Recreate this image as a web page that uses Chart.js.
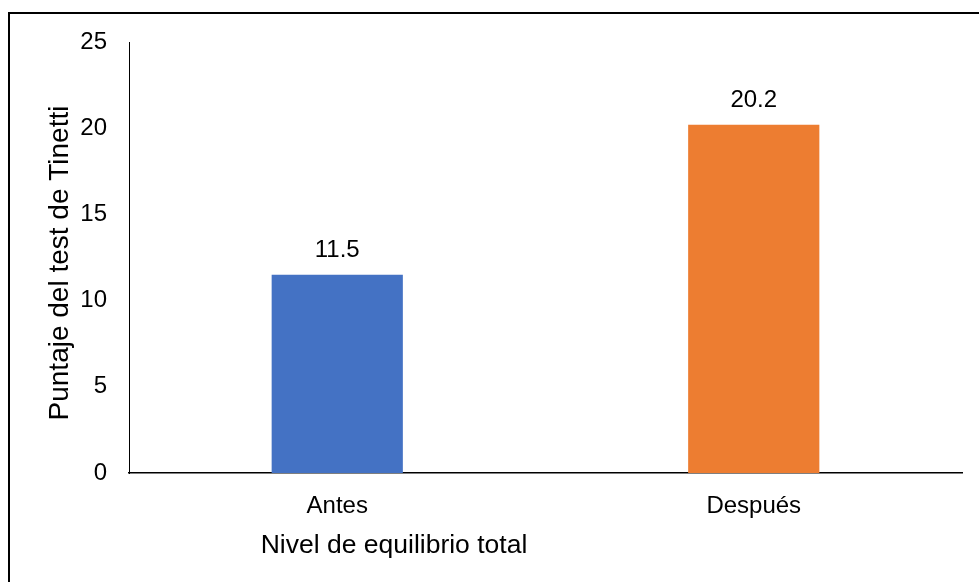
<!DOCTYPE html>
<html>
<head>
<meta charset="utf-8">
<script src="https://cdn.jsdelivr.net/npm/chart.js@4.4.1/dist/chart.umd.min.js"></script>
<style>
    html, body { margin: 0; padding: 0; background: #fff; }
    #wrap { width: 979px; height: 582px; position: relative; }
</style>
</head>
<body>
<div id="wrap"><canvas id="chart"></canvas></div>
<script>
// Tinetti scores before and after
const categories = ['Antes', 'Después'];
const scores = [11.5, 20.2];
const barColors = ['#4472C4', '#ED7D31'];
const yTicks = [0, 5, 10, 15, 20, 25];

const FONT = "'Liberation Sans', Arial, sans-serif";

// Outer frame + axis titles + value labels
const decorations = {
    id: 'decorations',
    beforeDraw(chart) {
        const ctx = chart.ctx;
        ctx.save();
        ctx.fillStyle = '#fff';
        ctx.fillRect(0, 0, chart.width, chart.height);
        ctx.strokeStyle = '#000';
        ctx.lineWidth = 2;
        ctx.beginPath();
        ctx.moveTo(9, chart.height);
        ctx.lineTo(9, 13);
        ctx.lineTo(chart.width, 13);
        ctx.stroke();
        ctx.restore();
    },
    afterDraw(chart) {
        const ctx = chart.ctx;
        ctx.save();
        ctx.fillStyle = '#000';

        // axis titles
        ctx.font = '26.5px ' + FONT;
        ctx.textAlign = 'center';
        ctx.textBaseline = 'middle';
        ctx.fillText('Nivel de equilibrio total', 394, 546);

        ctx.save();
        ctx.translate(60, 263);
        ctx.rotate(-Math.PI / 2);
        ctx.font = '28px ' + FONT;
        ctx.fillText('Puntaje del test de Tinetti', 0, 0);
        ctx.restore();

        // value labels above bars
        ctx.font = '24px ' + FONT;
        ctx.textBaseline = 'alphabetic';
        chart.getDatasetMeta(0).data.forEach((bar, i) => {
            ctx.fillText(String(scores[i]), bar.x, bar.y - 18);
        });
        ctx.restore();
    }
};

new Chart(document.getElementById('chart'), {
    type: 'bar',
    data: {
        labels: categories,
        datasets: [{
            data: scores,
            backgroundColor: barColors,
            borderWidth: 0,
            categoryPercentage: 1,
            barPercentage: 0.315
        }]
    },
    options: {
        responsive: true,
        maintainAspectRatio: false,
        animation: false,
        layout: { padding: { top: 42, right: 17, left: 0, bottom: 0 } },
        plugins: {
            legend: { display: false },
            tooltip: { enabled: false }
        },
        scales: {
            x: {
                grid: { display: false, drawTicks: false },
                border: { display: true, color: '#000', width: 1.5 },
                ticks: {
                    color: '#000',
                    font: { family: FONT, size: 24 },
                    padding: 19
                },
                afterFit(scale) { scale.height = 109; }
            },
            y: {
                min: 0,
                max: 25,
                grid: { display: false, drawTicks: false },
                border: { display: true, color: '#000', width: 1 },
                afterBuildTicks(scale) {
                    scale.ticks = yTicks.map(v => ({ value: v }));
                },
                ticks: {
                    color: '#000',
                    font: { family: FONT, size: 24 },
                    padding: 22
                },
                afterFit(scale) { scale.width = 129; }
            }
        }
    },
    plugins: [decorations]
});
</script>
</body>
</html>
